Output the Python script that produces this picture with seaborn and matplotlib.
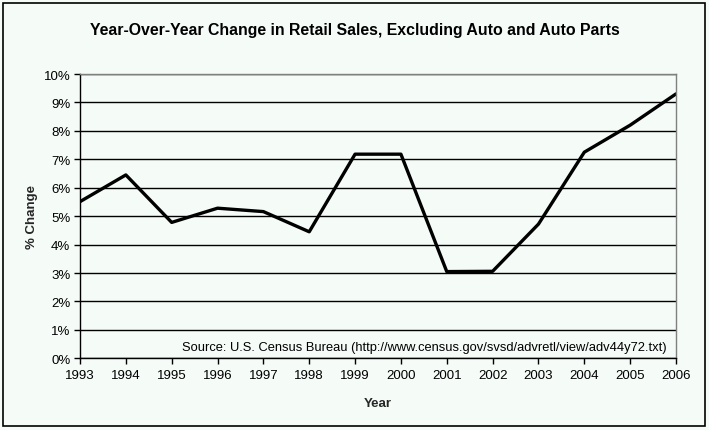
import matplotlib
matplotlib.use("Agg")
import matplotlib.pyplot as plt
import matplotlib.patches as mpatches
import seaborn as sns
import pandas as pd
from matplotlib.ticker import FuncFormatter, MultipleLocator

years = [1993, 1994, 1995, 1996, 1997, 1998, 1999, 2000, 2001, 2002, 2003, 2004, 2005, 2006]
pct_change = [5.51, 6.45, 4.78, 5.28, 5.16, 4.45, 7.18, 7.18, 3.05, 3.06, 4.72, 7.25, 8.20, 9.30]

title = "Year-Over-Year Change in Retail Sales, Excluding Auto and Auto Parts"
source = "Source: U.S. Census Bureau (http://www.census.gov/svsd/advretl/view/adv44y72.txt)"

df = pd.DataFrame({"Year": years, "Change": pct_change})

sns.set_theme(style="white")
plt.rcParams["font.family"] = ["Liberation Sans", "DejaVu Sans"]

bg = "#F5FBF7"
fig = plt.figure(figsize=(7.09, 4.31), dpi=100, facecolor=bg)
ax = fig.add_axes([80 / 709, 1 - 359.3 / 431, (676 - 80) / 709, (359.3 - 75) / 431])
ax.set_facecolor(bg)

# outer frame
fig.patches.append(mpatches.Rectangle((3 / 709, 4 / 431), 702 / 709, 423 / 431,
                                      transform=fig.transFigure, fill=False,
                                      edgecolor="black", linewidth=1.2))

sns.lineplot(data=df, x="Year", y="Change", ax=ax, color="black", linewidth=2.4)

ax.set_xlim(1993, 2006)
ax.set_ylim(0, 10)
ax.yaxis.set_major_locator(MultipleLocator(1))
ax.xaxis.set_major_locator(MultipleLocator(1))
ax.yaxis.set_major_formatter(FuncFormatter(lambda v, p: f"{int(round(v))}%"))
ax.xaxis.set_major_formatter(FuncFormatter(lambda v, p: f"{int(round(v))}"))

ax.grid(axis="y", color="black", linewidth=1.0)
ax.set_axisbelow(True)
for s in ["top", "right"]:
    ax.spines[s].set_color("#808080")
    ax.spines[s].set_linewidth(1.0)
for s in ["left", "bottom"]:
    ax.spines[s].set_color("black")
    ax.spines[s].set_linewidth(1.0)

ax.tick_params(axis="both", which="major", direction="out", length=4, width=1,
               color="black", labelsize=9.5, labelcolor="black", left=True, bottom=True)
ax.tick_params(axis="x", pad=4)
ax.tick_params(axis="y", pad=3)

ax.set_xlabel("Year", fontsize=9.5, fontweight="bold", labelpad=11)
ax.set_ylabel("% Change", fontsize=9.5, fontweight="bold", labelpad=4)

ax.text(0.984, 0.04, source, transform=ax.transAxes, ha="right", va="center",
        fontsize=9.3, color="black")

fig.text(354.5 / 709, 1 - 31 / 431, title, ha="center", va="center",
         fontsize=11.45, fontweight="bold", color="black")

fig.savefig("out.png", dpi=100, facecolor=bg)
